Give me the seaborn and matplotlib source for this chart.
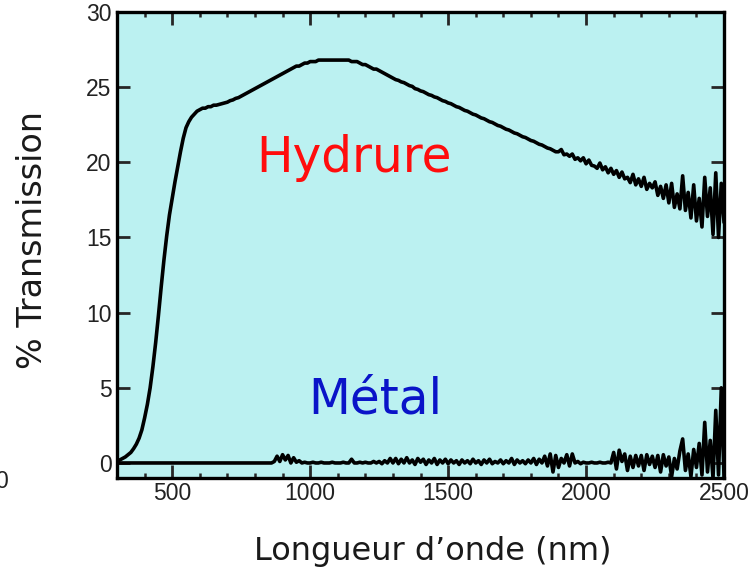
import numpy as np
import pandas as pd
import matplotlib
matplotlib.use("Agg")
import matplotlib.pyplot as plt
import seaborn as sns
from matplotlib.ticker import MultipleLocator

# Wavelength grid (nm) shared by both spectra
wavelength = list(range(300, 2510, 10))

# Transmission (%) of the hydride film
hydrure = [
    0.15, 0.2, 0.3, 0.4, 0.55, 0.7, 0.95, 1.25, 1.65, 2.2,
    3.0, 3.9, 5.0, 6.4, 8.0, 9.8, 11.7, 13.5, 15.1, 16.5,
    17.6, 18.7, 19.7, 20.7, 21.6, 22.3, 22.7, 23.0, 23.2, 23.4,
    23.5, 23.6, 23.6, 23.7, 23.7, 23.8, 23.8, 23.85, 23.9, 23.95,
    24.0, 24.1, 24.15, 24.25, 24.3, 24.4, 24.5, 24.6, 24.7, 24.8,
    24.9, 25.0, 25.1, 25.2, 25.3, 25.4, 25.5, 25.6, 25.7, 25.8,
    25.9, 26.0, 26.1, 26.2, 26.3, 26.4, 26.4, 26.5, 26.6, 26.6,
    26.7, 26.7, 26.7, 26.8, 26.8, 26.8, 26.8, 26.8, 26.8, 26.8,
    26.8, 26.8, 26.8, 26.8, 26.8, 26.7, 26.7, 26.7, 26.6, 26.5,
    26.5, 26.4, 26.3, 26.2, 26.2, 26.1, 26.0, 25.9, 25.8, 25.7,
    25.6, 25.5, 25.45, 25.35, 25.3, 25.2, 25.1, 25.05, 24.9, 24.85,
    24.75, 24.7, 24.6, 24.5, 24.45, 24.35, 24.3, 24.2, 24.1, 24.05,
    23.95, 23.9, 23.8, 23.7, 23.65, 23.55, 23.45, 23.4, 23.3, 23.2,
    23.15, 23.05, 22.95, 22.9, 22.8, 22.7, 22.65, 22.55, 22.45, 22.4,
    22.3, 22.2, 22.15, 22.05, 21.95, 21.9, 21.8, 21.7, 21.65, 21.55,
    21.45, 21.4, 21.3, 21.2, 21.15, 21.05, 20.95, 20.9, 20.8, 20.7,
    20.7, 20.85, 20.5, 20.55, 20.4, 20.55, 20.2, 20.3, 20.1, 20.3,
    19.9, 20.15, 19.8, 19.75, 19.6, 19.95, 19.5, 19.7, 19.3, 19.6,
    19.2, 19.45, 19.0, 19.35, 18.9, 19.0, 18.65, 19.2, 18.5, 18.9,
    18.4, 19.0, 18.2, 18.6, 18.3, 18.7, 17.8, 18.4, 17.6, 18.5,
    17.3, 18.6, 17.0, 17.9, 16.9, 19.1, 16.8, 18.0, 16.3, 18.5,
    16.1, 17.6, 15.7, 19.0, 16.4, 18.3, 15.2, 19.3, 15.0, 18.6,
    16.0,
]

# Transmission (%) of the metallic film
metal = [
    0.0, 0.0, 0.0, 0.0, 0.0, 0.0, 0.0, 0.0, 0.0, 0.0,
    0.0, 0.0, 0.0, 0.0, 0.0, 0.0, 0.0, 0.0, 0.0, 0.0,
    0.0, 0.0, 0.0, 0.0, 0.0, 0.0, 0.0, 0.0, 0.0, 0.0,
    0.0, 0.0, 0.0, 0.0, 0.0, 0.0, 0.0, 0.0, 0.0, 0.0,
    0.0, 0.0, 0.0, 0.0, 0.0, 0.0, 0.0, 0.0, 0.0, 0.0,
    0.0, 0.0, 0.0, 0.0, 0.0, 0.0, 0.0, 0.1, 0.45, 0.1,
    0.55, 0.2, 0.5, 0.0, 0.35, 0.05, 0.15, 0.0, 0.05, 0.0,
    0.0, 0.05, 0.0, 0.0, 0.05, 0.0, 0.0, 0.0, 0.05, 0.0,
    0.0, 0.0, 0.05, 0.0, 0.0, 0.25, 0.0, 0.0, 0.05, 0.0,
    0.05, 0.0, 0.0, 0.1, 0.0, 0.1, -0.05, 0.15, 0.0, 0.3,
    0.0, 0.3, -0.05, 0.25, 0.0, 0.35, 0.0, 0.2, -0.1, 0.3,
    0.05, 0.25, -0.1, 0.2, 0.0, 0.3, -0.1, 0.2, 0.0, 0.25,
    -0.05, 0.2, 0.0, 0.15, -0.1, 0.2, 0.0, 0.15, -0.05, 0.25,
    0.0, 0.15, -0.1, 0.2, 0.0, 0.25, -0.05, 0.1, 0.0, 0.2,
    -0.05, 0.15, 0.0, 0.3, -0.1, 0.2, 0.0, 0.15, -0.05, 0.2,
    0.0, 0.3, -0.1, 0.25, 0.0, 0.45, -0.2, 0.6, -0.6, 0.5,
    -0.3, 0.3, 0.0, 0.55, -0.2, 0.6, 0.0, 0.1, -0.05, 0.05,
    0.0, 0.0, 0.05, 0.0, 0.0, 0.05, 0.0, 0.0, 0.05, 0.0,
    0.7, -0.4, 0.85, 0.1, 0.6, -0.5, 0.45, -0.3, 0.5, -0.2,
    0.5, -0.5, 0.55, -0.1, 0.45, -0.3, 0.5, -0.6, 0.55, -0.2,
    0.4, -0.9, 0.3, -0.4, 0.8, 1.6, -0.5, 0.6, -0.9, 0.9,
    -0.3, 1.3, -0.8, 2.7, -0.6, 1.5, -1.0, 3.5, -0.8, 5.0,
    -1.0,
]

series_names = ["Hydrure", "Métal"]
label_colors = ["#ff0d0d", "#0a14c8"]
x_ticks = [500, 1000, 1500, 2000, 2500]
y_ticks = [0, 5, 10, 15, 20, 25, 30]

df = pd.concat([
    pd.DataFrame({"wl": wavelength, "T": hydrure, "film": series_names[0]}),
    pd.DataFrame({"wl": wavelength, "T": metal, "film": series_names[1]}),
])

sns.set_style("ticks")
plt.rcParams["font.family"] = ["Liberation Sans", "DejaVu Sans"]

fig = plt.figure(figsize=(7.55, 5.84), dpi=100)
ax = fig.add_axes([0.155, 0.1815, 0.804, 0.798])
ax.set_facecolor("#bbf1f1")

sns.lineplot(data=df, x="wl", y="T", hue="film", palette=["black", "black"],
             estimator=None, sort=False, linewidth=2.6, legend=False, ax=ax)

ax.set_xlim(300, 2500)
ax.set_ylim(-1, 30)
ax.set_xticks(x_ticks)
ax.set_yticks(y_ticks)
ax.xaxis.set_minor_locator(MultipleLocator(100))

for side in ax.spines.values():
    side.set_linewidth(2.4)
    side.set_color("black")
    side.set_zorder(5)

ax.tick_params(axis="both", which="major", direction="in", length=9.5, width=2.0,
               top=True, right=True, labelsize=16.5, labelcolor="#222222", pad=4)
ax.tick_params(axis="x", which="major", pad=3)
ax.tick_params(axis="x", which="minor", direction="in", length=3.8, width=1.8,
               top=True, bottom=True)
ax.tick_params(axis="y", which="minor", left=False, right=False)

ax.set_xlabel("Longueur d’onde (nm)", fontsize=23, family="DejaVu Sans",
              color="#1a1a1a")
ax.set_ylabel("% Transmission", fontsize=24, family="DejaVu Sans",
              color="#1a1a1a")
ax.xaxis.set_label_coords(0.52, -0.125)
ax.yaxis.set_label_coords(-0.112, 0.51)

ax.text(1160, 20.3, series_names[0], color=label_colors[0], fontsize=35,
        family="DejaVu Sans", ha="center", va="center")
ax.text(1235, 4.2, series_names[1], color=label_colors[1], fontsize=35,
        family="DejaVu Sans", ha="center", va="center")

# fragment of a neighbouring axis label at the left border
fig.text(0.011, 0.175, "0", fontsize=16.5, color="#222222", ha="right", va="center")

fig.savefig("out.png", dpi=100)
